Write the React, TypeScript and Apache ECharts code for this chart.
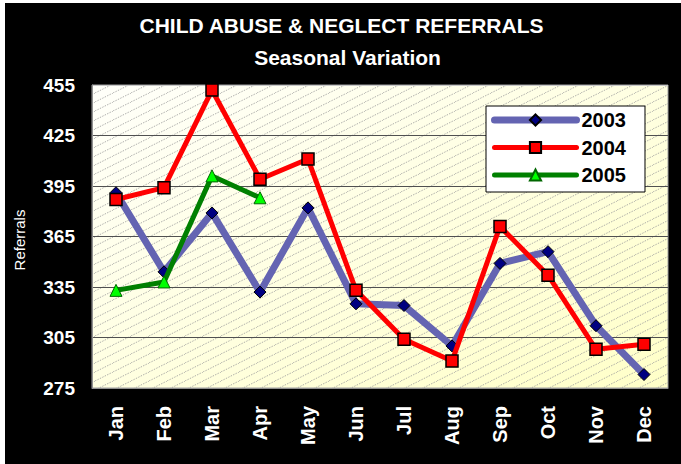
import React, { useEffect, useRef } from "react";
import * as echarts from "echarts";

const months = ["Jan", "Feb", "Mar", "Apr", "May", "Jun", "Jul", "Aug", "Sep", "Oct", "Nov", "Dec"];
const yTicks = [275, 305, 335, 365, 395, 425, 455];
const s2003 = [391, 344, 379, 332, 382, 325, 324, 300, 349, 356, 312, 283];
const s2004 = [387, 394, 452, 399, 411, 333, 304, 291, 371, 342, 298, 301];
const s2005: (number | null)[] = [333, 338, 401, 388, null, null, null, null, null, null, null, null];
const seriesNames = ["2003", "2004", "2005"];

const FONT = "'Liberation Sans', Arial, Helvetica, sans-serif";

const hatchSvg =
  "data:image/svg+xml;utf8," +
  encodeURIComponent(
    "<svg xmlns='http://www.w3.org/2000/svg' width='18' height='9'><line x1='0' y1='9' x2='18' y2='0' stroke='#9a9a9a' stroke-width='0.8' stroke-dasharray='1.5,1.2'/></svg>"
  );

export default function App() {
  const ref = useRef<HTMLDivElement>(null);
  useEffect(() => {
    if (!ref.current) return;
    const chart = echarts.init(ref.current, null, { renderer: "svg" });
    const gl = 87, gt = 82, gw = 576, gh = 303;
    chart.setOption({
      animation: false,
      backgroundColor: "#000000",
      grid: { left: gl, top: gt, width: gw, height: gh, show: false },
      graphic: [
        {
          type: "text",
          x: 336.5,
          y: 22.5,
          style: {
            text: "CHILD ABUSE & NEGLECT REFERRALS",
            fill: "#fff",
            font: `bold 21px ${FONT}`,
            align: "center",
            verticalAlign: "middle",
          },
        },
        {
          type: "text",
          x: 342.5,
          y: 54.5,
          style: {
            text: "Seasonal Variation",
            fill: "#fff",
            font: `bold 21px ${FONT}`,
            align: "center",
            verticalAlign: "middle",
          },
        },
        {
          type: "text",
          x: 14,
          y: 237,
          rotation: Math.PI / 2,
          style: {
            text: "Referrals",
            fill: "#fff",
            font: `15px ${FONT}`,
            align: "center",
            verticalAlign: "middle",
          },
        },
        {
          type: "rect",
          z: -2,
          shape: { x: gl, y: gt, width: gw, height: gh },
          style: {
            fill: {
              type: "linear",
              x: 0,
              y: 0,
              x2: 1,
              y2: 1,
              colorStops: [
                { offset: 0, color: "#FFFFFA" },
                { offset: 1, color: "#FFFFC8" },
              ],
            },
          },
        },
        {
          type: "rect",
          z: -1,
          shape: { x: gl, y: gt, width: gw, height: gh },
          style: {
            fill: { image: hatchSvg, repeat: "repeat", imageWidth: 18, imageHeight: 9 },
            stroke: "#a0a0a0",
            lineWidth: 1,
          },
        },
      ],
      legend: {
        orient: "vertical",
        left: 481,
        top: 103,
        data: seriesNames,
        itemWidth: 82,
        itemHeight: 14,
        itemGap: 7.5,
        padding: [4, 19, 7, 5],
        backgroundColor: "#ffffff",
        borderColor: "#000000",
        borderWidth: 1,
        borderRadius: 0,
        lineStyle: { width: "inherit", cap: "round" },
        textStyle: { fontSize: 20, fontWeight: "bold", color: "#000", fontFamily: FONT },
      },
      xAxis: {
        type: "category",
        data: months,
        boundaryGap: true,
        axisTick: { show: false },
        axisLine: { show: true, lineStyle: { color: "#909090", width: 1 } },
        axisLabel: {
          rotate: 90,
          margin: 18,
          color: "#fff",
          fontSize: 20,
          fontWeight: "bold",
          fontFamily: FONT,
        },
      },
      yAxis: {
        type: "value",
        min: yTicks[0],
        max: yTicks[yTicks.length - 1],
        interval: 30,
        axisTick: { show: false },
        axisLine: { show: true, lineStyle: { color: "#909090", width: 1 } },
        axisLabel: {
          margin: 17,
          color: "#fff",
          fontSize: 19,
          fontWeight: "bold",
          fontFamily: FONT,
        },
        splitLine: {
          show: true,
          lineStyle: {
            color: ["#a0a0a0", "#505050", "#505050", "#505050", "#505050", "#505050", "#c8c8c8"],
            width: 1,
          },
        },
      },
      series: [
        {
          name: "2003",
          type: "line",
          data: s2003,
          symbol: "diamond",
          symbolSize: 12,
          lineStyle: { color: "#6464B2", width: 7 },
          itemStyle: { color: "#000080", borderColor: "#000000", borderWidth: 1 },
          z: 3,
        },
        {
          name: "2004",
          type: "line",
          data: s2004,
          symbol: "rect",
          symbolSize: 12,
          lineStyle: { color: "#FF0000", width: 5, cap: "round" },
          itemStyle: { color: "#FF0000", borderColor: "#000000", borderWidth: 1.5 },
          z: 4,
        },
        {
          name: "2005",
          type: "line",
          data: s2005,
          symbol: "triangle",
          symbolSize: 12,
          connectNulls: false,
          lineStyle: { color: "#008000", width: 5, cap: "round" },
          itemStyle: { color: "#00FF00", borderColor: "#006600", borderWidth: 1 },
          z: 5,
        },
      ],
    });
    return () => chart.dispose();
  }, []);
  return (
    <div style={{ position: "absolute", left: 0, top: 0, width: 681, height: 464, background: "#fff" }}>
      <div ref={ref} style={{ position: "absolute", left: 5, top: 3, width: 676, height: 461 }} />
    </div>
  );
}
